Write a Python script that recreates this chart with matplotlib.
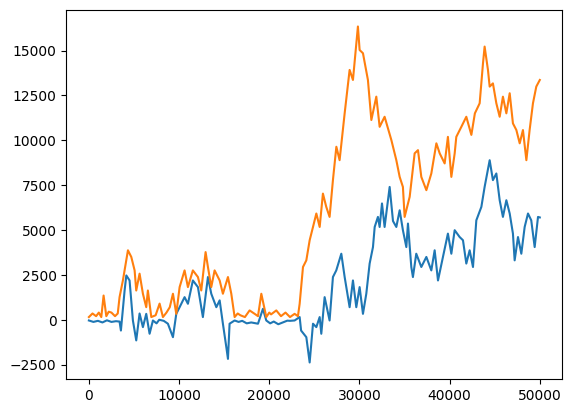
import matplotlib
matplotlib.use('Agg')
import matplotlib.pyplot as plt
import numpy as np

# blue series (step index vs value)
blue_x = [0, 500, 1000, 1500, 2000, 2500, 3000, 3400, 3550, 3960, 4150, 4510, 4880,
          5250, 5620, 5990, 6360, 6730, 7100, 7500, 7800, 8300, 8760, 9320, 9690,
          10060, 10610, 10980, 11530, 12090, 12640, 13200, 13570, 14130, 14500, 14860,
          15240, 15420, 15600, 16160, 16600, 17000, 17500, 18000, 18750, 19300, 19670,
          20100, 20500, 21000, 21500, 22000, 22300, 22810, 23370, 23530, 24110, 24480,
          24850, 25220, 25590, 25770, 26140, 26690, 27060, 27430, 27990, 28360, 28910,
          29280, 29650, 30020, 30390, 30760, 31130, 31500, 31690, 32050, 32240, 32500,
          32790, 33350, 33720, 34090, 34460, 34820, 35200, 35380, 35750, 35930, 36300,
          36860, 37420, 37970, 38340, 38710, 39260, 39810, 40190, 40560, 41110, 41480,
          41850, 42220, 42590, 42960, 43520, 43880, 44440, 44800, 45180, 45550, 45910,
          46290, 46660, 47020, 47210, 47580, 47950, 48320, 48690, 49050, 49430, 49800,
          49999]
blue_y = [-40, -120, -60, -150, -30, -120, -80, -100, -600, 1630, 2470, 2190, -40,
          -1150, 350, -410, 330, -780, -40, -200, 0, -60, -220, -970, 330,
          700, 1260, 890, 2190, 1820, 150, 2380, 1450, 700, 1080, -220,
          -1530, -2180, -220, -40, -120, -60, -200, -150, -220, 610, -40,
          -200, -100, -250, -150, -50, -60, -40, 150, -600, -970, -2380,
          -220, -410, 150, -780, 1260, -40, 2380, 2750, 3680, 2380, 700,
          2190, 700, 1820, 330, 1450, 3130, 4050, 5170, 5730, 5170, 6480,
          5170, 7400, 5500, 5170, 6100, 4990, 4050, 5360, 2940, 2380, 3680,
          2940, 3500, 2750, 3870, 2190, 3500, 4800, 3680, 4990, 4610, 4430,
          3130, 3870, 2940, 5540, 6290, 7400, 8890, 7780, 8150, 6660, 5730,
          6660, 5920, 4800, 3310, 4610, 3680, 5170, 5920, 5540, 4050, 5730,
          5700]

# orange series
orange_x = [0, 400, 800, 1100, 1375, 1630, 1930, 2200, 2500, 2900, 3200, 3400, 3770,
            4330, 4700, 5070, 5250, 5620, 5990, 6360, 6540, 6920, 7400, 7840, 8210,
            8600, 8970, 9320, 9690, 10060, 10610, 10980, 11530, 12090, 12460, 12940,
            13200, 13570, 13940, 14500, 14860, 15420, 15790, 16160, 16500, 16800, 17300,
            17820, 18380, 18750, 19120, 19670, 20000, 20200, 20780, 21300, 21800, 22300,
            22810, 23180, 23370, 23740, 24110, 24480, 24850, 25220, 25590, 25950, 26320,
            26690, 27060, 27440, 27800, 28360, 28910, 29280, 29830, 30020, 30390, 30940,
            31320, 31870, 32240, 32790, 33540, 34090, 34460, 34820, 35010, 35570, 36120,
            36490, 36860, 37420, 37970, 38530, 38900, 39450, 39810, 40190, 40560, 40740,
            41300, 41850, 42410, 42800, 43330, 43700, 43880, 44250, 44440, 44800, 45180,
            45550, 45910, 46290, 46660, 47020, 47400, 47770, 48130, 48510, 48870, 49240,
            49610, 49999]
orange_y = [150, 350, 200, 400, 150, 1350, 200, 450, 400, 200, 350, 1260, 2190,
            3870, 3500, 2750, 1630, 2570, 1450, 700, 1630, 150, 250, 900, 150,
            400, 700, 1450, 330, 1820, 2750, 1820, 2750, 2380, 1630, 3770,
            2940, 1820, 2750, 2190, 1450, 2380, 1450, 150, 350, 250, 150,
            520, 330, 200, 1450, 150, 400, 300, 520, 200, 400, 150,
            330, 200, 890, 2940, 3310, 4430, 5170, 5920, 5170, 7030, 6290,
            5730, 7780, 9640, 8890, 11500, 13920, 13360, 16340, 15030, 14850, 13360,
            11130, 12430, 10750, 11310, 10010, 8890, 7960, 7400, 5730, 6850, 9270,
            9450, 7960, 7220, 8150, 9830, 9270, 8710, 10190, 7960, 9270, 10190,
            10750, 11310, 10300, 11500, 12060, 14290, 15220, 13920, 12990, 13170, 12060,
            11310, 12430, 11500, 12620, 10940, 10570, 9830, 10570, 8890, 10570, 12060,
            12990, 13360]

plt.figure(figsize=(6.4, 4.8), dpi=100)
plt.plot(np.array(blue_x), np.array(blue_y))
plt.plot(np.array(orange_x), np.array(orange_y))
plt.savefig("out.png", dpi=100, bbox_inches='tight')
